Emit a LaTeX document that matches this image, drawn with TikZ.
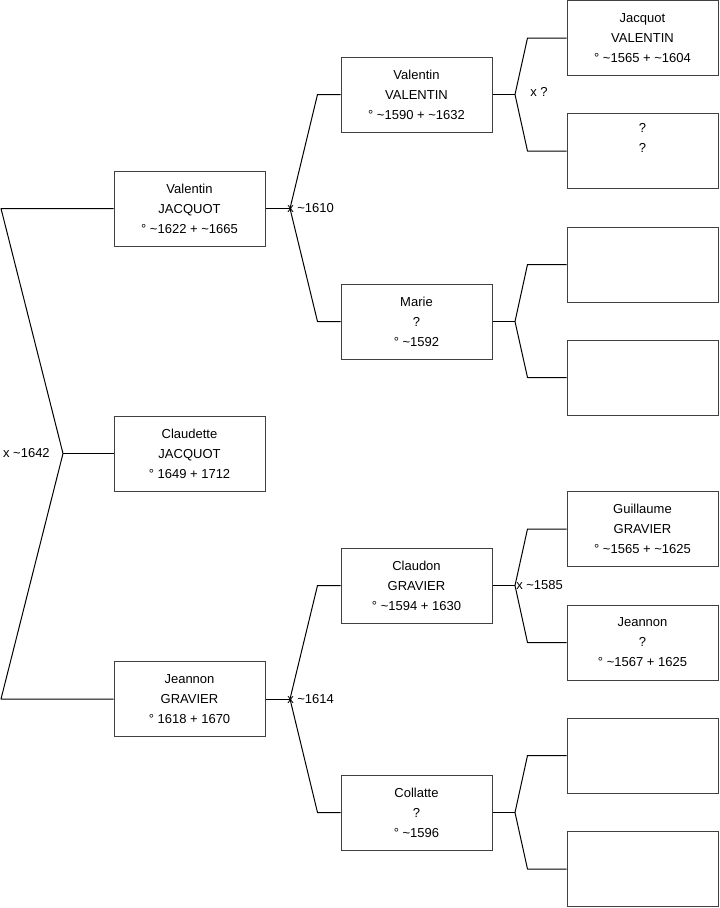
\documentclass[tikz,border=0pt]{standalone}
\usepackage{fontspec}
\setmainfont{Liberation Sans}
\usetikzlibrary{calc}

\begin{document}
\begin{tikzpicture}[
    x=0.75pt, y=-0.75pt,
    person/.style={draw=black!75, line width=0.75pt, align=center, minimum width=113.25pt, minimum height=56.25pt, inner sep=0pt, font=\fontsize{9.75}{15}\selectfont},
    lbl/.style={inner sep=0pt, font=\fontsize{9.75}{15}\selectfont},
    link/.style={line width=0.75pt, line join=round}
]
\useasboundingbox (0,0) rectangle (719,908);

% generation 1
\node[person] (valJ) at (189.5,208.5) {Valentin\\JACQUOT\\° \textasciitilde1622 + \textasciitilde1665};
\node[person] (claudette) at (189.5,453.5) {Claudette\\JACQUOT\\° 1649 + 1712};
\node[person] (jeannonG) at (189.5,699) {Jeannon\\GRAVIER\\° 1618 + 1670};

% generation 2
\node[person] (valV) at (416.5,94.5) {Valentin\\VALENTIN\\° \textasciitilde1590 + \textasciitilde1632};
\node[person] (marie) at (416.5,321.5) {Marie\\?\\° \textasciitilde1592};
\node[person] (claudon) at (416.5,585.5) {Claudon\\GRAVIER\\° \textasciitilde1594 + 1630};
\node[person] (collatte) at (416.5,812.5) {Collatte\\?\\° \textasciitilde1596};

% generation 3
\node[person] (jacquotV) at (642.5,38) {Jacquot\\VALENTIN\\° \textasciitilde1565 + \textasciitilde1604};
\node[person] (unk1) at (642.5,151) {?\\?\\\strut};
\node[person] (unk2) at (642.5,264.5) {};
\node[person] (unk3) at (642.5,377.5) {};
\node[person] (guillaume) at (642.5,529) {Guillaume\\GRAVIER\\° \textasciitilde1565 + \textasciitilde1625};
\node[person] (jeannonQ) at (642.5,642.5) {Jeannon\\?\\° \textasciitilde1567 + 1625};
\node[person] (unk4) at (642.5,755.5) {};
\node[person] (unk5) at (642.5,869) {};

% junctions
\coordinate (top0) at (1,208.5);
\coordinate (bot0) at (1,699);
\coordinate (j0) at (63,453.5);
\coordinate (j1) at (290,208.5);
\coordinate (j2) at (290,699);
\coordinate (j3) at (515,94.5);
\coordinate (j4) at (515,321.5);
\coordinate (j5) at (515,585.5);
\coordinate (j6) at (515,812.5);

% marriage labels
\node[lbl, anchor=east] (m0) at (50,453.5) {x \textasciitilde1642};
\node[lbl, anchor=west] (m1) at (287,208.5) {x \textasciitilde1610};
\node[lbl, anchor=west] (m2) at (287,699) {x \textasciitilde1614};
\node[lbl, anchor=west] (m3) at (530,92) {x ?};
\node[lbl, anchor=west] (m5) at (516,585.5) {x \textasciitilde1585};

% links
\draw[link] (valJ.west) -- (top0) -- (j0) -- (bot0) -- (jeannonG.west);
\draw[link] (j0) -- (claudette.west);

\draw[link] (valJ.east) -- (j1);
\draw[link] (valV.west) -- ++(-23,0) -- (j1) -- ($(marie.west)+(-23,0)$) -- (marie.west);
\draw[link] (jeannonG.east) -- (j2);
\draw[link] (claudon.west) -- ++(-23,0) -- (j2) -- ($(collatte.west)+(-23,0)$) -- (collatte.west);

\draw[link] (valV.east) -- (j3);
\draw[link] (jacquotV.west) -- ++(-39,0) -- (j3) -- ($(unk1.west)+(-39,0)$) -- (unk1.west);
\draw[link] (marie.east) -- (j4);
\draw[link] (unk2.west) -- ++(-39,0) -- (j4) -- ($(unk3.west)+(-39,0)$) -- (unk3.west);
\draw[link] (claudon.east) -- (j5);
\draw[link] (guillaume.west) -- ++(-39,0) -- (j5) -- ($(jeannonQ.west)+(-39,0)$) -- (jeannonQ.west);
\draw[link] (collatte.east) -- (j6);
\draw[link] (unk4.west) -- ++(-39,0) -- (j6) -- ($(unk5.west)+(-39,0)$) -- (unk5.west);
\end{tikzpicture}
\end{document}
